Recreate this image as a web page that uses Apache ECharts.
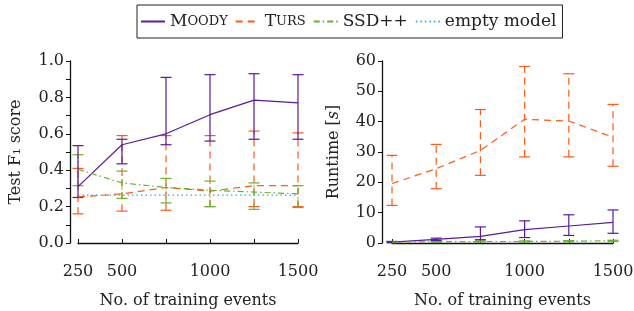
<!DOCTYPE html>
<html><head><meta charset="utf-8">
<script src="https://cdn.jsdelivr.net/npm/echarts@6/dist/echarts.min.js"></script>
<style>html,body{margin:0;padding:0;background:#fff}#c{width:634px;height:311px}</style>
</head><body><div id="c"></div>
<script>
const events = [250, 500, 750, 1000, 1250, 1500];
const xTickLabels = [250, 500, 1000, 1500];

// Test F1 score
const f1Moody   = [0.31, 0.54, 0.60, 0.705, 0.785, 0.77];
const f1MoodyLo = [0.25, 0.435, 0.54, 0.56, 0.57, 0.57];
const f1MoodyHi = [0.535, 0.57, 0.91, 0.925, 0.93, 0.925];
const f1Turs    = [0.253, 0.27, 0.305, 0.285, 0.315, 0.315];
const f1TursLo  = [0.16, 0.175, 0.18, 0.2, 0.2, 0.2];
const f1TursHi  = [0.41, 0.59, 0.59, 0.59, 0.615, 0.605];
const f1Ssd     = [0.405, 0.33, 0.305, 0.29, 0.28, 0.27];
const f1SsdLo   = [0.315, 0.245, 0.22, 0.2, 0.185, 0.195];
const f1SsdHi   = [0.485, 0.395, 0.355, 0.34, 0.33, 0.315];
const f1Empty   = [0.263, 0.263, 0.263, 0.263, 0.263, 0.263];

// Runtime [s]
const rtMoody   = [0.3, 1.2, 2.2, 4.4, 5.6, 6.8];
const rtMoodyLo = [0.1, 0.8, 1.1, 1.8, 2.5, 3.2];
const rtMoodyHi = [0.5, 1.6, 5.3, 7.3, 9.3, 10.9];
const rtTurs    = [19.6, 24.5, 30.5, 40.8, 40.2, 34.9];
const rtTursLo  = [12.4, 17.9, 22.3, 28.4, 28.4, 25.3];
const rtTursHi  = [28.9, 32.5, 44.0, 58.2, 55.8, 45.7];
const rtSsd     = [0.3, 0.4, 0.5, 0.5, 0.6, 0.7];
const rtSsdLo   = [0.1, 0.2, 0.3, 0.3, 0.4, 0.5];
const rtSsdHi   = [0.5, 0.6, 0.7, 0.7, 0.8, 0.9];

const names = ['Moody', 'Turs', 'SSD++', 'empty model'];
const C = {moody:'#5a1a9a', turs:'#ff5a1a', ssd:'#6ab02e', empty:'#3aa6dc'};
const DASH = {moody:'solid', turs:[7,5], ssd:[6,3,1.5,3], empty:[1.5,3]};
const FONT = 'DejaVu Serif';

function pairs(vals){ return events.map((x,i)=>[x, vals[i]]); }
function lineSeries(name, vals, key, idx){
  return {type:'line', name, data:pairs(vals), xAxisIndex:idx, yAxisIndex:idx,
    symbol:'none', color:C[key], lineStyle:{color:C[key], width:1.2, type:DASH[key]},
    itemStyle:{color:C[key]}, z:3};
}
function errSeries(lo, hi, key, idx){
  return {type:'custom', xAxisIndex:idx, yAxisIndex:idx, z:2,
    data:events.map((x,i)=>[x, lo[i], hi[i]]),
    renderItem:function(params, api){
      const p1 = api.coord([api.value(0), api.value(1)]);
      const p2 = api.coord([api.value(0), api.value(2)]);
      const hw = 5.5;
      const st = {stroke:C[key], lineWidth:1.2, lineDash: key==='moody'?null:DASH[key], fill:null};
      return {type:'group', children:[
        {type:'line', shape:{x1:p1[0], y1:p1[1], x2:p2[0], y2:p2[1]}, style:st},
        {type:'line', shape:{x1:p1[0]-hw, y1:p1[1], x2:p1[0]+hw, y2:p1[1]}, style:{stroke:C[key], lineWidth:1.2}},
        {type:'line', shape:{x1:p2[0]-hw, y1:p2[1], x2:p2[0]+hw, y2:p2[1]}, style:{stroke:C[key], lineWidth:1.2}}
      ]};
    }};
}

const axisText = {fontFamily:FONT, fontSize:16, color:'#222'};
function xAxis(idx){
  return {type:'value', gridIndex:idx, min:250, max:1500, interval:250, offset:9,
    name:'No. of training events', nameLocation:'middle', nameGap:41,
    nameTextStyle:{fontFamily:FONT, fontSize:16, color:'#222'},
    axisLine:{show:true, lineStyle:{color:'#111', width:1.3}},
    axisTick:{show:true, inside:true, length:4, lineStyle:{color:'#111', width:1}},
    axisLabel:Object.assign({margin:12, formatter:v=> xTickLabels.includes(v) ? String(v) : ''}, axisText),
    splitLine:{show:false}};
}

const option = {
  animation:false,
  textStyle:{fontFamily:FONT},
  legend:{
    data:names, left:137, top:5, orient:'horizontal',
    borderColor:'#222', borderWidth:1, padding:[8,6,8,3], itemGap:7,
    itemWidth:24, itemHeight:14,
    itemStyle:{opacity:0},
    textStyle:{fontFamily:FONT, fontSize:17, color:'#222',
      rich:{s:{fontFamily:FONT, fontSize:13, color:'#222'}}},
    formatter:function(n){
      if(n==='Moody') return 'M{s|OODY}';
      if(n==='Turs') return 'T{s|URS}';
      return n;
    }
  },
  grid:[
    {left:78, right:336, top:61, bottom:68, containLabel:false, outerBoundsMode:'none'},
    {left:392, right:21, top:61, bottom:68, containLabel:false, outerBoundsMode:'none'}
  ],
  xAxis:[xAxis(0), xAxis(1)],
  yAxis:[
    {type:'value', gridIndex:0, min:0, max:1, interval:0.2, offset:8,
     name:'Test F\u2081 score', nameLocation:'middle', nameGap:46, nameRotate:90,
     nameTextStyle:{fontFamily:FONT, fontSize:16, color:'#222'},
     axisLine:{show:true, lineStyle:{color:'#111', width:1.3}},
     axisTick:{show:true, length:4, lineStyle:{color:'#111'}},
     minorTick:{show:true, splitNumber:2, length:4, lineStyle:{color:'#111'}},
     axisLabel:Object.assign({margin:6, formatter:v=>v.toFixed(1)}, axisText),
     splitLine:{show:false}},
    {type:'value', gridIndex:1, min:0, max:60, interval:10, offset:10,
     name:'Runtime [{i|s}]', nameLocation:'middle', nameGap:40, nameRotate:90,
     nameTextStyle:{fontFamily:FONT, fontSize:16, color:'#222',
       rich:{i:{fontFamily:FONT, fontSize:16, fontStyle:'italic', color:'#222'}}},
     axisLine:{show:true, lineStyle:{color:'#111', width:1.3}},
     axisTick:{show:true, length:4, lineStyle:{color:'#111'}},
     axisLabel:Object.assign({margin:6}, axisText),
     splitLine:{show:false}}
  ],
  series:[
    errSeries(f1TursLo, f1TursHi, 'turs', 0),
    errSeries(f1SsdLo, f1SsdHi, 'ssd', 0),
    errSeries(f1MoodyLo, f1MoodyHi, 'moody', 0),
    lineSeries('Moody', f1Moody, 'moody', 0),
    lineSeries('Turs', f1Turs, 'turs', 0),
    lineSeries('SSD++', f1Ssd, 'ssd', 0),
    lineSeries('empty model', f1Empty, 'empty', 0),
    errSeries(rtTursLo, rtTursHi, 'turs', 1),
    errSeries(rtSsdLo, rtSsdHi, 'ssd', 1),
    errSeries(rtMoodyLo, rtMoodyHi, 'moody', 1),
    lineSeries('Moody', rtMoody, 'moody', 1),
    lineSeries('Turs', rtTurs, 'turs', 1),
    lineSeries('SSD++', rtSsd, 'ssd', 1)
  ]
};
const chart = echarts.init(document.getElementById('c'), null, {renderer:'canvas'});
chart.setOption(option);
</script></body></html>
